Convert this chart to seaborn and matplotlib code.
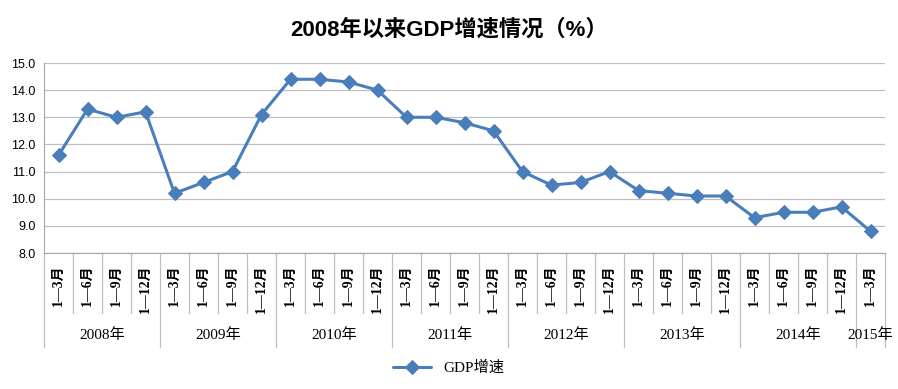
import matplotlib
matplotlib.use("Agg")
import matplotlib.pyplot as plt
import matplotlib.transforms as mtransforms
import numpy as np
import pandas as pd
import seaborn as sns

# Data
years = ["2008年", "2009年", "2010年", "2011年", "2012年", "2013年", "2014年", "2015年"]
periods_per_year = [4, 4, 4, 4, 4, 4, 4, 1]
period_names = ["1—3月", "1—6月", "1—9月", "1—12月"]
gdp_growth = [11.6, 13.3, 13.0, 13.2,
              10.2, 10.6, 11.0, 13.1,
              14.4, 14.4, 14.3, 14.0,
              13.0, 13.0, 12.8, 12.5,
              11.0, 10.5, 10.6, 11.0,
              10.3, 10.2, 10.1, 10.1,
              9.3, 9.5, 9.5, 9.7,
              8.8]

tick_labels = []
for n in periods_per_year:
    tick_labels += period_names[:n]

df = pd.DataFrame({"idx": np.arange(len(gdp_growth)), "growth": gdp_growth})

sns.set_style("white")
plt.rcParams["font.family"] = ["Liberation Sans", "Noto Sans CJK SC"]
plt.rcParams["text.color"] = "black"
plt.rcParams["ytick.color"] = "black"
plt.rcParams["xtick.color"] = "black"
serif = ["Liberation Serif", "Noto Sans CJK SC"]

fig = plt.figure(figsize=(8.98, 3.89), dpi=100)
ax = fig.add_axes([44 / 898, 1 - 253 / 389, (885 - 44) / 898, (253 - 63) / 389])

line_color = "#4A7EBB"
sns.lineplot(data=df, x="idx", y="growth", ax=ax, color=line_color, linewidth=2.2,
             marker="D", markersize=7, markeredgecolor=line_color, label="GDP增速")

ax.set_xlim(-0.5, len(gdp_growth) - 0.5)
ax.set_ylim(8, 15)
ax.set_yticks(np.arange(8, 15.5, 1.0))
ax.set_yticklabels([f"{v:.1f}" for v in np.arange(8, 15.5, 1.0)], fontsize=9)
ax.yaxis.grid(True, color="#BFBFBF", linewidth=0.9)
ax.set_axisbelow(True)
ax.set_xlabel("")
ax.set_ylabel("")

for s in ["top", "right"]:
    ax.spines[s].set_visible(False)
ax.spines["left"].set_color("#A6A6A6")
ax.spines["bottom"].set_color("#A6A6A6")
ax.tick_params(axis="y", length=4, color="#A6A6A6", labelcolor="black", pad=2)

# period tick labels (rotated, serif)
ax.set_xticks(np.arange(len(gdp_growth)))
ax.set_xticklabels(tick_labels, rotation=90, fontsize=10, fontweight="bold", family=serif)
ax.tick_params(axis="x", length=0, pad=8, labelcolor="black")
for lbl in ax.get_xticklabels():
    lbl.set_verticalalignment("top")

# multi-level category separators
trans = mtransforms.blended_transform_factory(ax.transData, ax.transAxes)
inner_depth = -(313 - 253) / (253 - 63)
outer_depth = -(347 - 253) / (253 - 63)
bounds = np.concatenate([[0], np.cumsum(periods_per_year)]) - 0.5
for k in range(len(gdp_growth) + 1):
    xb = k - 0.5
    depth = outer_depth if xb in bounds else inner_depth
    ax.plot([xb, xb], [0, depth], transform=trans, color="#BFBFBF",
            linewidth=0.9, clip_on=False)

# year labels
for i, yr in enumerate(years):
    center = (bounds[i] + bounds[i + 1]) / 2
    ax.text(center, -(335 - 253) / (253 - 63), yr, transform=trans, ha="center",
            va="center", fontsize=11, family=serif)

fig.text(0.5, 1 - 30 / 389, "2008年以来GDP增速情况（%）", ha="center", va="center",
         fontsize=16, fontweight="bold", color="black", family=["Liberation Sans", "Noto Sans CJK SC"])

ax.get_legend().remove()
leg = fig.legend(*ax.get_legend_handles_labels(), loc="center", bbox_to_anchor=(0.5, 1 - 368 / 389),
                 frameon=False, prop={"family": serif, "size": 11}, handlelength=2.5)

fig.savefig("out.png", dpi=100)
